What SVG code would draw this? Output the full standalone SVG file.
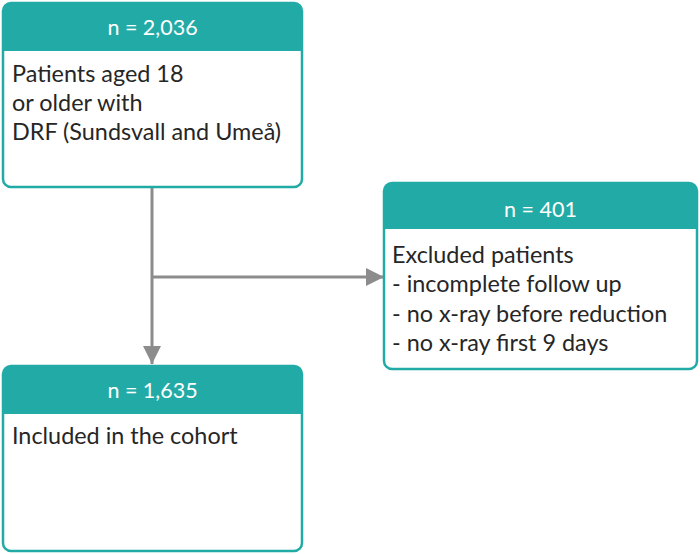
<svg xmlns="http://www.w3.org/2000/svg" width="700" height="554" viewBox="0 0 700 554">
<defs>
<style>
.box{fill:#ffffff;stroke:#22aba6;stroke-width:2.5}
.hdr{fill:#22aba6}
.ht{font-family:Lato,"Open Sans",sans-serif;font-size:21.5px;fill:#ffffff;text-anchor:middle}
.bt{font-family:Lato,"Open Sans",sans-serif;font-size:23.4px;fill:#262626}
.conn{stroke:#8c8c8c;stroke-width:3;fill:none}
</style>
<marker id="arr" viewBox="0 0 10 10" refX="10" refY="5" markerWidth="6" markerHeight="7.5" markerUnits="strokeWidth" orient="auto">
<path d="M0,0 L10,5 L0,10 z" fill="#8c8c8c"/>
</marker>
</defs>
<rect width="700" height="554" fill="#ffffff"/>
<g id="connectors">
<path class="conn" d="M152,188 L152,364" marker-end="url(#arr)"/>
<path class="conn" d="M152,277 L384,277" marker-end="url(#arr)"/>
</g>
<g id="node1">
<rect class="box" x="3" y="3" width="299" height="184" rx="8"/>
<path class="hdr" d="M3,51 L3,11 A8,8 0 0 1 11,3 L294,3 A8,8 0 0 1 302,11 L302,51 Z"/>
<text class="ht" x="152.5" y="35">n = 2,036</text>
<text class="bt" x="12" y="82">Patients aged 18</text>
<text class="bt" x="12" y="111">or older with</text>
<text class="bt" x="12" y="140">DRF (Sundsvall and Umeå)</text>
</g>
<g id="node2">
<rect class="box" x="384" y="183" width="313" height="186" rx="8"/>
<path class="hdr" d="M384,229 L384,191 A8,8 0 0 1 392,183 L689,183 A8,8 0 0 1 697,191 L697,229 Z"/>
<text class="ht" x="540.5" y="217">n = 401</text>
<text class="bt" x="392" y="263">Excluded patients</text>
<text class="bt" x="392" y="292">- incomplete follow up</text>
<text class="bt" x="392" y="322">- no x-ray before reduction</text>
<text class="bt" x="392" y="351">- no x-ray first 9 days</text>
</g>
<g id="node3">
<rect class="box" x="3" y="366" width="299" height="185" rx="8"/>
<path class="hdr" d="M3,414 L3,374 A8,8 0 0 1 11,366 L294,366 A8,8 0 0 1 302,374 L302,414 Z"/>
<text class="ht" x="152.5" y="398">n = 1,635</text>
<text class="bt" x="12" y="444">Included in the cohort</text>
</g>
</svg>
